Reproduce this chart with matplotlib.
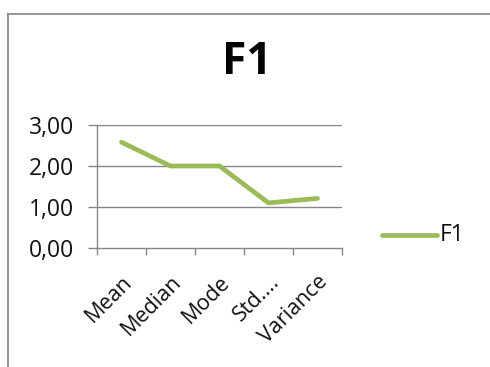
import matplotlib
matplotlib.use("Agg")
import matplotlib.pyplot as plt
from matplotlib.lines import Line2D

categories = ["Mean", "Median", "Mode", "Std....", "Variance"]
f1_values = [2.58, 2.0, 2.0, 1.1, 1.21]
y_ticks = [0, 1, 2, 3]
y_tick_labels = ["0,00", "1,00", "2,00", "3,00"]

W, H = 490, 367
fig = plt.figure(figsize=(W / 100, H / 100), dpi=100)
fig.patch.set_facecolor("white")

font = ["Open Sans", "DejaVu Sans"]
green = "#9BBB59"
grid_gray = "#878787"

# outer chart border (left and top edges)
fig.add_artist(Line2D([8 / W, 8 / W], [0, 1 - 14 / H], color="#8C8C8C", lw=1.3,
                      transform=fig.transFigure))
fig.add_artist(Line2D([8 / W, 1], [1 - 14 / H, 1 - 14 / H], color="#8C8C8C", lw=1.3,
                      transform=fig.transFigure))

left, right, top, bottom = 97, 342, 125, 248
ax = fig.add_axes([left / W, 1 - bottom / H, (right - left) / W, (bottom - top) / H])
x = list(range(len(categories)))
ax.plot(x, f1_values, color=green, lw=3.4, solid_capstyle="round",
        solid_joinstyle="miter", zorder=3)
ax.set_xlim(-0.5, len(categories) - 0.5)
ax.set_ylim(0, 3)

for yv in y_ticks[1:]:
    ax.axhline(yv, color=grid_gray, lw=1.0, zorder=1)

for s in ["top", "right"]:
    ax.spines[s].set_visible(False)
for s in ["left", "bottom"]:
    ax.spines[s].set_color(grid_gray)
    ax.spines[s].set_linewidth(1.0)

ax.set_yticks(y_ticks)
ax.set_yticklabels(y_tick_labels, fontfamily=font, fontsize=16.5, color="#111111")
ax.tick_params(axis="y", length=6.5, width=1.0, color=grid_gray, pad=10)

ax.set_xticks([i - 0.5 for i in range(len(categories) + 1)], minor=False)
ax.set_xticklabels([])
ax.tick_params(axis="x", length=5, width=1.0, color=grid_gray)
ax.set_xticks(x, minor=True)
ax.set_xticklabels(categories, minor=True, rotation=45, ha="right",
                   rotation_mode="anchor", fontfamily=font, fontsize=15.5,
                   color="#111111")
ax.tick_params(axis="x", which="minor", length=0, pad=17)

fig.text(247 / W, 1 - 63 / H, "F1", ha="center", va="center",
         fontfamily=font, fontsize=32, fontweight="bold", color="black")

# legend
fig.add_artist(Line2D([382 / W, 437 / W], [1 - 235 / H, 1 - 235 / H], color=green,
                      lw=3.4, solid_capstyle="round", transform=fig.transFigure))
fig.text(440 / W, 1 - 235 / H, "F1", ha="left", va="center",
         fontfamily=font, fontsize=16.5, color="#111111")

fig.savefig("out.png", dpi=100, facecolor="white")
